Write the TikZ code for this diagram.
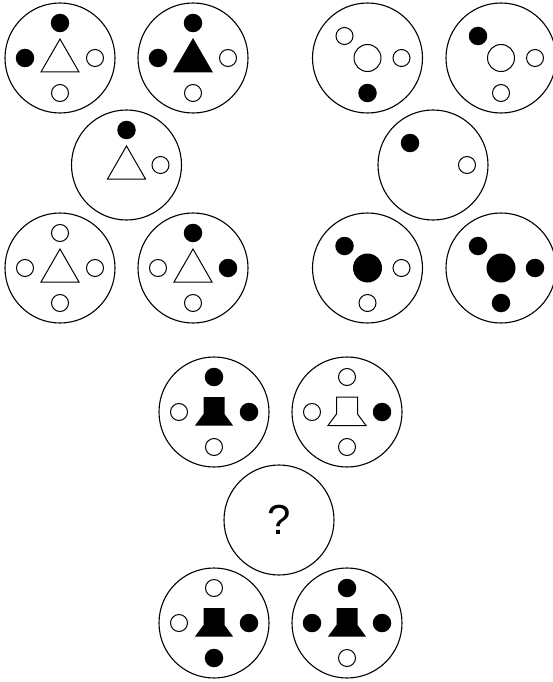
\documentclass[tikz,border=0pt]{standalone}
\usepackage{fontspec}
\setsansfont{Liberation Sans}

\begin{document}
\begin{tikzpicture}[
    x=1pt, y=-1pt,
    panel/.style={circle, draw=black, line width=1.1pt, minimum size=110pt, inner sep=0pt},
    dotb/.style={circle, fill=black, minimum size=18.5pt, inner sep=0pt},
    doto/.style={circle, draw=black, fill=white, line width=1pt, minimum size=17pt, inner sep=0pt},
    hubb/.style={circle, fill=black, minimum size=29pt, inner sep=0pt},
    hubo/.style={circle, draw=black, line width=1pt, minimum size=27pt, inner sep=0pt},
    shapeo/.style={draw=black, line width=1pt, line join=miter},
    shapeb/.style={fill=black},
]
\useasboundingbox (0,0) rectangle (552,682);
% triangles
\begin{scope}[shift={(60,58)}]
  \node[panel] (a1) {};
  \node[dotb] (a1n) at (0,-35) {}; \node[dotb] (a1w) at (-35,0) {};
  \node[doto] (a1e) at (35,0) {}; \node[doto] (a1s) at (0,35) {};
  \draw[shapeo] (0,-19) -- (19,14) -- (-19,14) -- cycle;
\end{scope}
\begin{scope}[shift={(193,58)}]
  \node[panel] (a2) {};
  \node[dotb] (a2n) at (0,-35) {}; \node[dotb] (a2w) at (-35,0) {};
  \node[doto] (a2e) at (35,0) {}; \node[doto] (a2s) at (0,35) {};
  \fill[shapeb] (0,-20) -- (20,14.5) -- (-20,14.5) -- cycle;
\end{scope}
\begin{scope}[shift={(126.5,165)}]
  \node[panel] (a3) {};
  \node[dotb] (a3n) at (0,-35) {}; \node[doto] (a3e) at (34,0) {};
  \draw[shapeo] (0,-19) -- (19,14) -- (-19,14) -- cycle;
\end{scope}
\begin{scope}[shift={(60,268)}]
  \node[panel] (a4) {};
  \node[doto] (a4n) at (0,-35) {}; \node[doto] (a4w) at (-35,0) {};
  \node[doto] (a4e) at (35,0) {}; \node[doto] (a4s) at (0,35) {};
  \draw[shapeo] (0,-19) -- (19,14) -- (-19,14) -- cycle;
\end{scope}
\begin{scope}[shift={(193,268)}]
  \node[panel] (a5) {};
  \node[dotb] (a5n) at (0,-35) {}; \node[doto] (a5w) at (-35,0) {};
  \node[dotb] (a5e) at (35,0) {}; \node[doto] (a5s) at (0,35) {};
  \draw[shapeo] (0,-19) -- (19,14) -- (-19,14) -- cycle;
\end{scope}
% hubs
\begin{scope}[shift={(367.5,58)}]
  \node[panel] (b1) {}; \node[hubo] (b1c) {};
  \node[doto] (b1nw) at (-23,-22) {}; \node[doto] (b1e) at (34,0) {};
  \node[dotb] (b1s) at (0,35) {};
\end{scope}
\begin{scope}[shift={(501,58)}]
  \node[panel] (b2) {}; \node[hubo] (b2c) {};
  \node[dotb] (b2nw) at (-23,-22) {}; \node[doto] (b2e) at (34,0) {};
  \node[doto] (b2s) at (0,35) {};
\end{scope}
\begin{scope}[shift={(433,165)}]
  \node[panel] (b3) {};
  \node[dotb] (b3nw) at (-23,-22) {}; \node[doto] (b3e) at (34,0) {};
\end{scope}
\begin{scope}[shift={(367.5,268)}]
  \node[panel] (b4) {}; \node[hubb] (b4c) {};
  \node[dotb] (b4nw) at (-23,-22) {}; \node[doto] (b4e) at (34,0) {};
  \node[doto] (b4s) at (0,35) {};
\end{scope}
\begin{scope}[shift={(501,268)}]
  \node[panel] (b5) {}; \node[hubb] (b5c) {};
  \node[dotb] (b5nw) at (-23,-22) {}; \node[dotb] (b5e) at (34,0) {};
  \node[dotb] (b5s) at (0,35) {};
\end{scope}
% bells
\begin{scope}[shift={(214,412)}]
  \node[panel] (c1) {};
  \node[dotb] (c1n) at (0,-35) {}; \node[doto] (c1w) at (-35,0) {};
  \node[dotb] (c1e) at (35,0) {}; \node[doto] (c1s) at (0,35) {};
  \fill[shapeb] (-10.5,-15) -- (10.5,-15) -- (10.5,2) -- (19,13.5) -- (-19,13.5) -- (-10.5,2) -- cycle;
\end{scope}
\begin{scope}[shift={(347,412)}]
  \node[panel] (c2) {};
  \node[doto] (c2n) at (0,-35) {}; \node[doto] (c2w) at (-35,0) {};
  \node[dotb] (c2e) at (35,0) {}; \node[doto] (c2s) at (0,35) {};
  \draw[shapeo] (-10.5,-15) -- (10.5,-15) -- (10.5,2) -- (19,13.5) -- (-19,13.5) -- (-10.5,2) -- cycle;
\end{scope}
\begin{scope}[shift={(279,520)}]
  \node[panel] (c3) {};
  \node[font=\sffamily\fontsize{42}{50}\selectfont, inner sep=0pt] (q) {?};
\end{scope}
\begin{scope}[shift={(214,623)}]
  \node[panel] (c4) {};
  \node[doto] (c4n) at (0,-35) {}; \node[doto] (c4w) at (-35,0) {};
  \node[dotb] (c4e) at (35,0) {}; \node[dotb] (c4s) at (0,35) {};
  \fill[shapeb] (-10.5,-15) -- (10.5,-15) -- (10.5,2) -- (19,13.5) -- (-19,13.5) -- (-10.5,2) -- cycle;
\end{scope}
\begin{scope}[shift={(347,623)}]
  \node[panel] (c5) {};
  \node[dotb] (c5n) at (0,-35) {}; \node[dotb] (c5w) at (-35,0) {};
  \node[dotb] (c5e) at (35,0) {}; \node[doto] (c5s) at (0,35) {};
  \fill[shapeb] (-10.5,-15) -- (10.5,-15) -- (10.5,2) -- (19,13.5) -- (-19,13.5) -- (-10.5,2) -- cycle;
\end{scope}
\end{tikzpicture}
\end{document}
